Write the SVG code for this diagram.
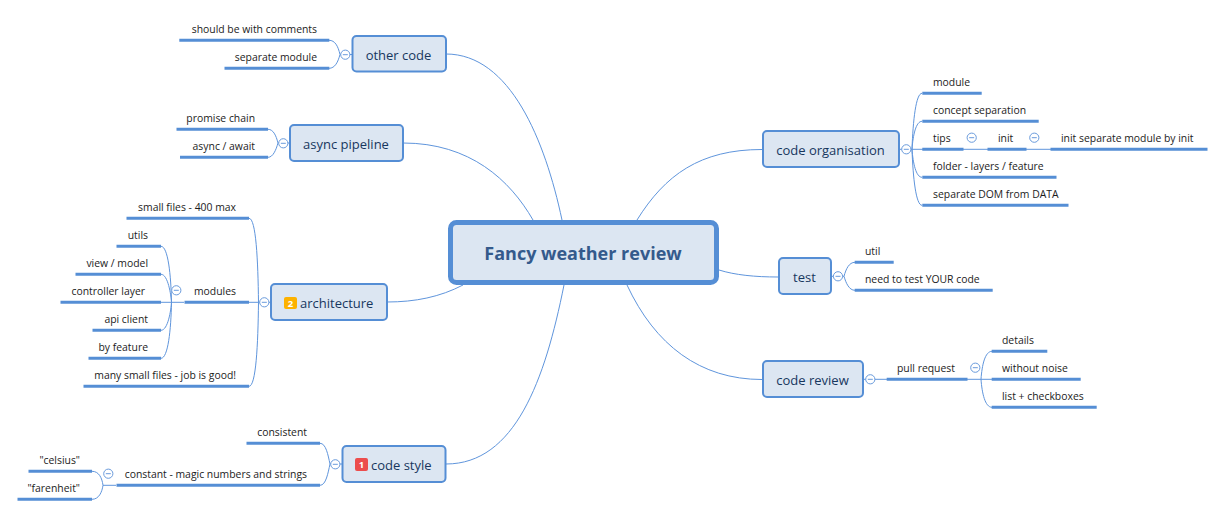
<svg xmlns="http://www.w3.org/2000/svg" width="1225" height="516" viewBox="0 0 1225 516">
<style>
text{font-family:"Open Sans","Noto Sans","Liberation Sans",sans-serif}
.leaf{font-size:10.4px;fill:#1c1c1c}
.end{text-anchor:end}
.bar{stroke:#558ed5;stroke-width:3;fill:none}
.box{fill:#dce6f2;stroke:#558ed5;stroke-width:2}
.lbl{font-size:13px;fill:#17375e}
.mid{text-anchor:middle}
.tog{fill:#fff;stroke:#6a9bdc;stroke-width:1}
.dash{stroke:#6a9bdc;stroke-width:1}
.con path{fill:none;stroke:#5f95dc;stroke-width:1}
.bdg{font-size:9.500px;font-weight:700;fill:#fff;text-anchor:middle}
</style>
<defs>
<g id="toggle"><circle class="tog" r="4.6"/><path class="dash" d="M-2.500 0H2.500"/></g>
</defs>
<rect width="1225" height="516" fill="#fff"/>
<g id="connectors" class="con">
<path d="M446 54C510 54 545 140 562 220"/>
<path d="M403 143C470 143 510 180 533 220"/>
<path d="M387 302C415 302 440 297 463 285"/>
<path d="M446 464C515 464 545 380 564 285"/>
<path d="M762 149.500C700 149.500 665 175 637 220"/>
<path d="M778 277C755 277 735 275 719 270"/>
<path d="M762 379.500C700 379.500 655 345 627 285"/>
<path d="M352 54.500H340M340 54.500C338 46 335 40.300 329 40.300M340 54.500C338 62 335 68.300 329 68.300"/>
<path d="M289 143H278M278 143C276 135 273 129.300 268 129.300M278 143C276 150 273 157.300 268 157.300"/>
<path d="M270 302.300H249M258.500 302.300C258 260 256 218.300 249 218.300M258.500 302.300C258 345 256 386.300 249 386.300"/>
<path d="M184 302.300H161M171.500 302.300C171 275 168 246.300 161 246.300M171.500 302.300C171 295 168 274.300 161 274.300M171.500 302.300C171 310 168 330.300 161 330.300M171.500 302.300C171 330 168 358.300 161 358.300"/>
<path d="M342 464H330M330 464C328 455 326 443.300 320 443.300M330 464C328 473 326 485.300 320 485.300"/>
<path d="M116 485.300H103M103 485.300C102 478 99 471.300 92 471.300M103 485.300C102 492 99 499.300 92 499.300"/>
<path d="M900 149.300H963M912 149.300C913 120 916 93.300 922 93.300M912 149.300C913 135 916 121.300 922 121.300M912 149.300C913 163 916 177.300 922 177.300M912 149.300C913 178 916 205.300 922 205.300"/>
<path d="M963 149.300H988M1026 149.300H1051"/>
<path d="M832 276.300H844M844 276.300C846 269 849 262.300 855 262.300M844 276.300C846 283 849 290.300 855 290.300"/>
<path d="M864 379.300H887M967 379.300H992M981 379.300C982 365 985 351.300 992 351.300M981 379.300C982 393 985 407.300 992 407.300"/>
</g>
<g id="center"><rect x="450.500" y="222.500" width="266" height="60" rx="6" fill="#dce6f2" stroke="#558ed5" stroke-width="5"/><text x="583" y="260" text-anchor="middle" font-size="18" font-weight="700" fill="#345a8c">Fancy weather review</text></g>
<g id="other-code"><rect class="box" x="352.500" y="36" width="93.500" height="35.500" rx="4"/><text class="lbl mid" x="398.500" y="60">other code</text><use href="#toggle" x="345.300" y="54.700"/></g>
<g id="async-pipeline"><rect class="box" x="290" y="125" width="113" height="36" rx="4"/><text class="lbl mid" x="346" y="149">async pipeline</text><use href="#toggle" x="283.300" y="143.300"/></g>
<g id="architecture"><rect class="box" x="271" y="284" width="116" height="36" rx="4"/><rect x="284" y="297" width="13" height="12" rx="2" fill="#fdb200"/><text class="bdg" x="290.500" y="306.500">2</text><text class="lbl" x="300" y="308">architecture</text><use href="#toggle" x="264.300" y="302.300"/></g>
<g id="code-style"><rect class="box" x="342.500" y="446" width="103" height="36" rx="4"/><rect x="355" y="458" width="13" height="13" rx="2" fill="#ec4d4d"/><text class="bdg" x="361.500" y="468">1</text><text class="lbl" x="371" y="470">code style</text><use href="#toggle" x="335.300" y="464.300"/></g>
<g id="code-organisation"><rect class="box" x="763" y="131" width="136" height="36" rx="4"/><text class="lbl mid" x="830.500" y="155">code organisation</text><use href="#toggle" x="906.300" y="149.300"/></g>
<g id="test"><rect class="box" x="779" y="258" width="52" height="36" rx="4"/><text class="lbl mid" x="804.500" y="282">test</text><use href="#toggle" x="838" y="276.300"/></g>
<g id="code-review"><rect class="box" x="763" y="361" width="100" height="36" rx="4"/><text class="lbl mid" x="812.500" y="385">code review</text><use href="#toggle" x="870.300" y="379.300"/></g>
<g id="should-be-with-comments"><path class="bar" d="M179.300 40.300H329.300"/><text class="leaf end" x="317" y="33">should be with comments</text></g>
<g id="separate-module"><path class="bar" d="M224.500 68.300H329.300"/><text class="leaf end" x="317" y="61">separate module</text></g>
<g id="promise-chain"><path class="bar" d="M176.500 129.300H268"/><text class="leaf end" x="255" y="122">promise chain</text></g>
<g id="async-await"><path class="bar" d="M180 157.300H268"/><text class="leaf end" x="255" y="150">async / await</text></g>
<g id="small-files"><path class="bar" d="M126.500 218.300H249"/><text class="leaf end" x="236" y="211">small files - 400 max</text></g>
<g id="modules"><path class="bar" d="M184.500 302.300H249"/><text class="leaf end" x="236" y="295">modules</text><use href="#toggle" x="176.300" y="290.300"/></g>
<g id="utils"><path class="bar" d="M116.500 246.300H161"/><text class="leaf end" x="148" y="239">utils</text></g>
<g id="view-model"><path class="bar" d="M75.500 274.300H161"/><text class="leaf end" x="148" y="267">view / model</text></g>
<g id="controller-layer"><path class="bar" d="M60.500 302.300H161"/><text class="leaf end" x="145" y="295">controller layer</text></g>
<g id="api-client"><path class="bar" d="M92.500 330.300H161"/><text class="leaf end" x="148" y="323">api client</text></g>
<g id="by-feature"><path class="bar" d="M88.500 358.300H161"/><text class="leaf end" x="148" y="351">by feature</text></g>
<g id="many-small-files"><path class="bar" d="M83.500 386.300H249"/><text class="leaf end" x="236" y="379">many small files - job is good!</text></g>
<g id="consistent"><path class="bar" d="M246.500 443.300H320"/><text class="leaf end" x="307" y="436">consistent</text></g>
<g id="constant"><path class="bar" d="M116.500 485.300H320"/><text class="leaf end" x="307" y="478">constant - magic numbers and strings</text><use href="#toggle" x="108.300" y="473.700"/></g>
<g id="celsius"><path class="bar" d="M28.500 471.300H92"/><text class="leaf end" x="80" y="464">"celsius"</text></g>
<g id="farenheit"><path class="bar" d="M17.500 499.300H92"/><text class="leaf end" x="80" y="492">"farenheit"</text></g>
<g id="module"><path class="bar" d="M922.300 93.300H981.700"/><text class="leaf" x="933" y="86">module</text></g>
<g id="concept-separation"><path class="bar" d="M922.300 121.300H1038.700"/><text class="leaf" x="933" y="114">concept separation</text></g>
<g id="tips"><path class="bar" d="M922.300 149.300H963.500"/><text class="leaf" x="933" y="142">tips</text><use href="#toggle" x="971.700" y="137.700"/></g>
<g id="init"><path class="bar" d="M987.500 149.300H1026.500"/><text class="leaf" x="998" y="142">init</text><use href="#toggle" x="1034.300" y="137.700"/></g>
<g id="init-separate"><path class="bar" d="M1050.500 149.300H1207.500"/><text class="leaf" x="1061" y="142">init separate module by init</text></g>
<g id="folder"><path class="bar" d="M922.300 177.300H1056.500"/><text class="leaf" x="933" y="170">folder - layers / feature</text></g>
<g id="separate-dom"><path class="bar" d="M922.300 205.300H1068.500"/><text class="leaf" x="933" y="198">separate DOM from DATA</text></g>
<g id="util"><path class="bar" d="M854.700 262.300H893.700"/><text class="leaf" x="865" y="255">util</text></g>
<g id="need-to-test"><path class="bar" d="M854.700 290.300H992.700"/><text class="leaf" x="865" y="283">need to test YOUR code</text></g>
<g id="pull-request"><path class="bar" d="M886.700 379.300H967.500"/><text class="leaf" x="897" y="372">pull request</text><use href="#toggle" x="975.300" y="367.700"/></g>
<g id="details"><path class="bar" d="M991.700 351.300H1047.300"/><text class="leaf" x="1002" y="344">details</text></g>
<g id="without-noise"><path class="bar" d="M991.700 379.300H1080.700"/><text class="leaf" x="1002" y="372">without noise</text></g>
<g id="list-checkboxes"><path class="bar" d="M991.700 407.300H1096.700"/><text class="leaf" x="1002" y="400">list + checkboxes</text></g>
</svg>
